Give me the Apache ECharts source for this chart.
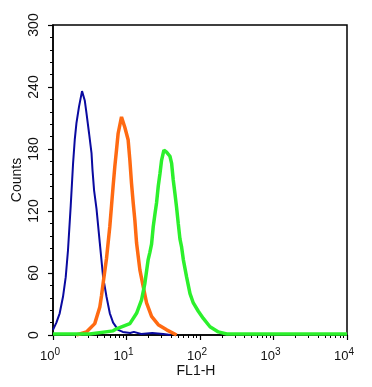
<!DOCTYPE html>
<html><head><meta charset="utf-8">
<script src="https://cdn.jsdelivr.net/npm/echarts@6/dist/echarts.min.js"></script>
<style>html,body{margin:0;padding:0;background:#fff}#c{width:372px;height:387px}</style>
</head><body><div id="c"></div>
<script>
// x positions are log10(FL1-H)
var blueX  = [0, 0.046, 0.091, 0.136, 0.173, 0.204, 0.241, 0.273, 0.296, 0.319, 0.354, 0.395, 0.432, 0.455, 0.491, 0.524, 0.537, 0.559, 0.592, 0.637, 0.682, 0.728, 0.773, 0.818, 0.886, 0.95, 1.05, 1.1, 1.2, 1.35, 1.5, 1.6];
var blueY  = [5, 12, 21, 37, 56, 82, 125, 166, 189, 205, 221, 236, 227, 215, 195, 176, 160, 140, 122, 89, 56, 37, 21, 12, 5, 3, 2, 3, 1, 2, 1, 0];
var orangeX = [0.318, 0.455, 0.568, 0.637, 0.66, 0.682, 0.728, 0.773, 0.796, 0.818, 0.841, 0.864, 0.886, 0.932, 0.977, 1.022, 1.046, 1.068, 1.091, 1.114, 1.137, 1.182, 1.227, 1.273, 1.341, 1.432, 1.546, 1.682];
var orangeY = [0, 3, 11, 27, 38, 50, 74, 105, 125, 144, 163, 179, 195, 211, 201, 189, 169, 147, 128, 111, 89, 63, 47, 31, 18, 10, 5, 0];
var greenX = [0, 0.5, 0.818, 0.864, 1.046, 1.137, 1.205, 1.25, 1.295, 1.318, 1.341, 1.364, 1.387, 1.409, 1.432, 1.455, 1.477, 1.509, 1.545, 1.591, 1.614, 1.636, 1.659, 1.682, 1.704, 1.727, 1.75, 1.773, 1.818, 1.864, 1.909, 1.977, 2.045, 2.136, 2.25, 2.364, 4.0];
var greenY = [1, 1, 4, 6, 11, 21, 34, 50, 73, 80, 88, 105, 117, 128, 144, 156, 169, 179, 177, 173, 166, 150, 137, 123, 108, 93, 85, 73, 56, 40, 31, 23, 16, 8, 3, 1, 1];
var decades = [0, 1, 2, 3, 4];
var yTicks = [0, 60, 120, 180, 240, 300];

function pairs(xs, ys){ return xs.map(function(x,i){ return [x, ys[i]]; }); }
var minorVals = [];
for (var d = 0; d < 4; d++) for (var k = 2; k <= 9; k++) minorVals.push(d + Math.log10(k));

var font = '"Liberation Sans", Arial, sans-serif';
var chart = echarts.init(document.getElementById('c'));
chart.setOption({
  animation: false,
  grid: {left: 53, right: 25, top: 25, bottom: 52, containLabel: false, outerBoundsMode: 'none',
         show: true, borderColor: '#000', borderWidth: 1.5, backgroundColor: 'transparent'},
  xAxis: [{
    type: 'value', min: 0, max: 4, interval: 1, position: 'bottom',
    name: 'FL1-H', nameLocation: 'middle', nameGap: 29, nameMoveOverlap: false,
    nameTextStyle: {color: '#111', fontSize: 14, fontFamily: font, padding: [0, 8, 0, 0]},
    axisLine: {show: true, lineStyle: {color: '#000', width: 1.5}},
    axisTick: {show: true, inside: false, length: 5, lineStyle: {color: '#000', width: 1.2}, customValues: decades},
    axisLabel: {color: '#111', margin: 12, customValues: decades, padding: [0, 6, 0, 0],
      formatter: function(v){ return '10{s|' + Math.round(v) + '}'; },
      rich: {s: {fontSize: 10, verticalAlign: 'top', padding: [0,0,8,0], color: '#111', fontFamily: font}},
      fontSize: 13, fontFamily: font},
    splitLine: {show: false}
  }, {
    type: 'value', min: 0, max: 4, position: 'bottom',
    axisLine: {show: false},
    axisTick: {show: true, inside: false, length: 3, lineStyle: {color: '#000', width: 1}, customValues: minorVals},
    axisLabel: {show: false},
    splitLine: {show: false}
  }],
  yAxis: {
    type: 'value', min: 0, max: 300, interval: 60,
    name: 'Counts', nameLocation: 'middle', nameGap: 29, nameMoveOverlap: false,
    nameTextStyle: {color: '#111', fontSize: 14, fontFamily: font},
    axisLine: {show: true, lineStyle: {color: '#000', width: 1.5}},
    axisTick: {show: true, length: 5, lineStyle: {color: '#000', width: 1.2}},
    minorTick: {show: true, splitNumber: 5, length: 3, lineStyle: {color: '#000', width: 1}},
    axisLabel: {rotate: 90, color: '#111', fontSize: 14, fontFamily: font, margin: 12},
    splitLine: {show: false}, minorSplitLine: {show: false}
  },
  series: [
    {type: 'line', data: pairs(blueX, blueY), showSymbol: false, lineStyle: {color: '#0a0aa0', width: 2}, z: 2},
    {type: 'line', data: pairs(orangeX, orangeY), showSymbol: false, lineStyle: {color: '#ff6a12', width: 3.5}, z: 3},
    {type: 'line', data: pairs(greenX, greenY), showSymbol: false, lineStyle: {color: '#2cf02c', width: 3.5}, z: 4}
  ]
});
</script></body></html>
